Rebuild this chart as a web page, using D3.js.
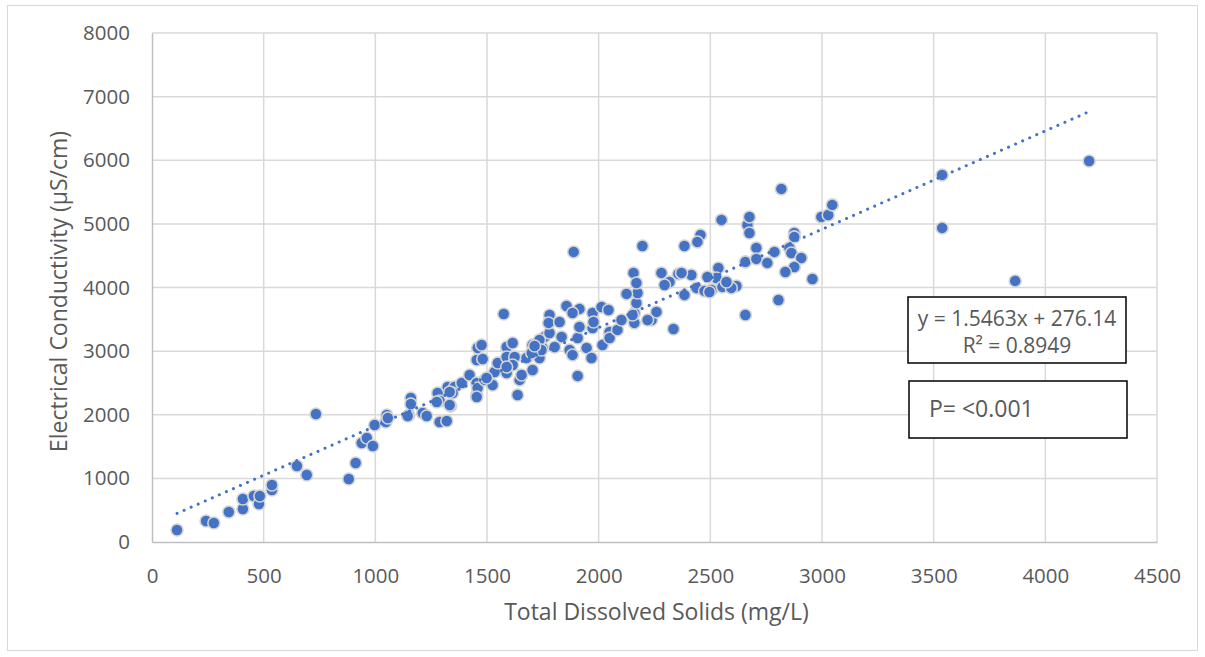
<!DOCTYPE html>
<html>
<head>
<meta charset="utf-8">
<script src="https://cdn.jsdelivr.net/npm/d3@7"></script>
<style>
  html, body { margin: 0; padding: 0; background: #fff; }
  svg { display: block; font-family: "Open Sans", "Noto Sans", sans-serif; }
</style>
</head>
<body>
<svg id="chart" width="1205" height="657"></svg>
<script>
// Total dissolved solids (mg/L) for each sample
const tds = [112, 242, 277, 344, 407, 407, 456, 479, 483, 537, 537, 649, 693, 734, 881, 912, 939, 962, 989, 997,
  1047, 1051, 1056, 1150, 1159, 1159, 1145, 1212, 1230, 1279, 1288, 1288, 1320, 1324, 1355, 1346, 1337, 1387, 1422, 1454,
  1454, 1458, 1490, 1525, 1534, 1548, 1454, 1458, 1476, 1588, 1615, 1588, 1624, 1615, 1588, 1637, 1646, 1655, 1704, 1691,
  1735, 1722, 1749, 1758, 1575, 1704, 1735, 1780, 1780, 1776, 1825, 1856, 1914, 1973, 2013, 2044, 1834, 1744, 1803, 1870,
  1883, 1906, 1914, 1946, 1968, 1973, 2017, 2049, 2049, 2084, 2102, 2160, 2160, 2169, 2174, 2125, 2237, 2259, 2335, 2384,
  1906, 1888, 2196, 2384, 2156, 2169, 2281, 2357, 2317, 2295, 2152, 2550, 2666, 2675, 2456, 2442, 2876, 2876, 2706, 2787,
  2854, 2863, 2907, 2876, 2836, 2657, 2706, 2755, 2957, 2536, 2527, 2487, 2415, 2371, 2438, 2474, 2505, 2554, 2617, 2594,
  2572, 2805, 2657, 2675, 2818, 2997, 3028, 3046, 3538, 3538, 4196, 3865, 2219, 2496, 1977, 1883, 1481, 1454, 1333, 1275,
  1333, 1498, 1588, 1677, 1700, 1713];

// Electrical conductivity (µS/cm) for the same samples
const ec = [189, 330, 299, 472, 519, 676, 723, 597, 723, 817, 896, 1195, 1053, 2012, 990, 1242, 1556, 1635, 1509, 1839,
  1886, 1996, 1949, 1996, 2264, 2169, 1981, 2028, 1981, 2342, 2217, 1886, 1902, 2437, 2437, 2342, 2138, 2499, 2625, 2499,
  2311, 2421, 2547, 2468, 2672, 2814, 2861, 3050, 3097, 3065, 3128, 2908, 2908, 2782, 2657, 2311, 2547, 2625, 2704, 2940,
  2892, 3097, 3050, 3223, 3584, 3097, 3175, 3285, 3568, 3443, 3458, 3710, 3663, 3600, 3694, 3647, 3223, 3018, 3065, 3018,
  2940, 3207, 3380, 3050, 2892, 3364, 3097, 3301, 3207, 3333, 3490, 3443, 3600, 3757, 3914, 3899, 3490, 3616, 3348, 3883,
  2610, 4559, 4653, 4653, 4229, 4071, 4229, 4213, 4087, 4040, 3568, 5062, 4983, 4857, 4826, 4716, 4857, 4795, 4622, 4559,
  4622, 4543, 4464, 4323, 4244, 4402, 4449, 4386, 4134, 4307, 4150, 4166, 4197, 4229, 3993, 3946, 3961, 4009, 4024, 3993,
  4087, 3804, 3568, 5109, 5549, 5109, 5140, 5298, 5769, 4936, 5989, 4103, 3490, 3930, 3458, 3600, 2877, 2279, 2358, 2201,
  2154, 2578, 2751, 2892, 2971, 3081];

// Axis ticks
const xTicks = [0, 500, 1000, 1500, 2000, 2500, 3000, 3500, 4000, 4500];
const yTicks = [0, 1000, 2000, 3000, 4000, 5000, 6000, 7000, 8000];

// Linear fit reported on the chart
const fitSlope = 1.5463;
const fitIntercept = 276.14;
const fitLabel = ["y = 1.5463x + 276.14", "R² = 0.8949"];
const pLabel = "P= <0.001";

const svg = d3.select("#chart");
const plot = { left: 152, right: 1157, top: 33, bottom: 542 };

const x = d3.scaleLinear().domain([0, 4500]).range([plot.left, plot.right]);
const y = d3.scaleLinear().domain([0, 8000]).range([plot.bottom, plot.top]);

const textColor = "#595959";
const gridColor = "#D9D9D9";
const pointColor = "#4472C4";

// Outer chart frame
svg.append("rect")
  .attr("x", 7.5).attr("y", 5.5)
  .attr("width", 1190).attr("height", 645)
  .attr("fill", "#fff")
  .attr("stroke", gridColor).attr("stroke-width", 1);

// Gridlines
const grid = svg.append("g");
grid.selectAll(".hg").data(yTicks.filter(d => d > 0)).enter().append("line")
  .attr("x1", plot.left).attr("x2", plot.right)
  .attr("y1", d => y(d)).attr("y2", d => y(d))
  .attr("stroke", gridColor).attr("stroke-width", 1.5);
grid.selectAll(".vg").data(xTicks.filter(d => d > 0)).enter().append("line")
  .attr("y1", plot.top).attr("y2", plot.bottom)
  .attr("x1", d => x(d)).attr("x2", d => x(d))
  .attr("stroke", gridColor).attr("stroke-width", 1.5);

// Axes
const xAxis = svg.append("g")
  .attr("transform", `translate(0,${plot.bottom})`)
  .call(d3.axisBottom(x).tickValues(xTicks).tickSize(0).tickPadding(26).tickFormat(d3.format("d")));
const yAxis = svg.append("g")
  .attr("transform", `translate(${plot.left},0)`)
  .call(d3.axisLeft(y).tickValues(yTicks).tickSize(0).tickPadding(22).tickFormat(d3.format("d")));

[xAxis, yAxis].forEach(a => {
  a.select(".domain").attr("stroke", "#BFBFBF").attr("stroke-width", 1.5);
  a.selectAll("text")
    .attr("fill", textColor)
    .style("font-size", "20.5px")
    .style("font-family", "'Open Sans', 'Noto Sans', sans-serif");
});

// Axis titles
svg.append("text")
  .attr("x", (plot.left + plot.right) / 2 + 2)
  .attr("y", 620)
  .attr("text-anchor", "middle")
  .attr("fill", textColor)
  .style("font-size", "23px")
  .text("Total Dissolved Solids (mg/L)");

svg.append("text")
  .attr("transform", `translate(67,${(plot.top + plot.bottom) / 2 + 4}) rotate(-90)`)
  .attr("text-anchor", "middle")
  .attr("fill", textColor)
  .style("font-size", "23px")
  .text("Electrical Conductivity (µS/cm)");

// Sample points
const data = tds.map((v, i) => ({ tds: v, ec: ec[i] }));
svg.append("g").selectAll("circle").data(data).enter().append("circle")
  .attr("cx", d => x(d.tds))
  .attr("cy", d => y(d.ec))
  .attr("r", 6)
  .attr("fill", pointColor)
  .attr("stroke", "#D4D4D4")
  .attr("stroke-width", 1.6);

// Dotted linear trendline across the observed range
const xMin = d3.min(tds), xMax = d3.max(tds);
svg.append("line")
  .attr("x1", x(xMin)).attr("y1", y(fitSlope * xMin + fitIntercept))
  .attr("x2", x(xMax)).attr("y2", y(fitSlope * xMax + fitIntercept))
  .attr("stroke", pointColor)
  .attr("stroke-width", 3)
  .attr("stroke-linecap", "round")
  .attr("stroke-dasharray", "0.1 7.6");

// Fit equation box
svg.append("rect")
  .attr("x", 908).attr("y", 297).attr("width", 218).attr("height", 66)
  .attr("fill", "#fff").attr("stroke", "#000").attr("stroke-width", 1.5);
svg.append("g").selectAll("text").data(fitLabel).enter().append("text")
  .attr("x", 1017)
  .attr("y", (d, i) => 326 + i * 27)
  .attr("text-anchor", "middle")
  .attr("fill", textColor)
  .style("font-size", "21px")
  .text(d => d);

// Significance box
svg.append("rect")
  .attr("x", 909).attr("y", 381).attr("width", 218).attr("height", 57)
  .attr("fill", "#fff").attr("stroke", "#000").attr("stroke-width", 1.5);
svg.append("text")
  .attr("x", 929).attr("y", 417)
  .attr("fill", textColor)
  .style("font-size", "23px")
  .text(pLabel);
</script>
</body>
</html>
